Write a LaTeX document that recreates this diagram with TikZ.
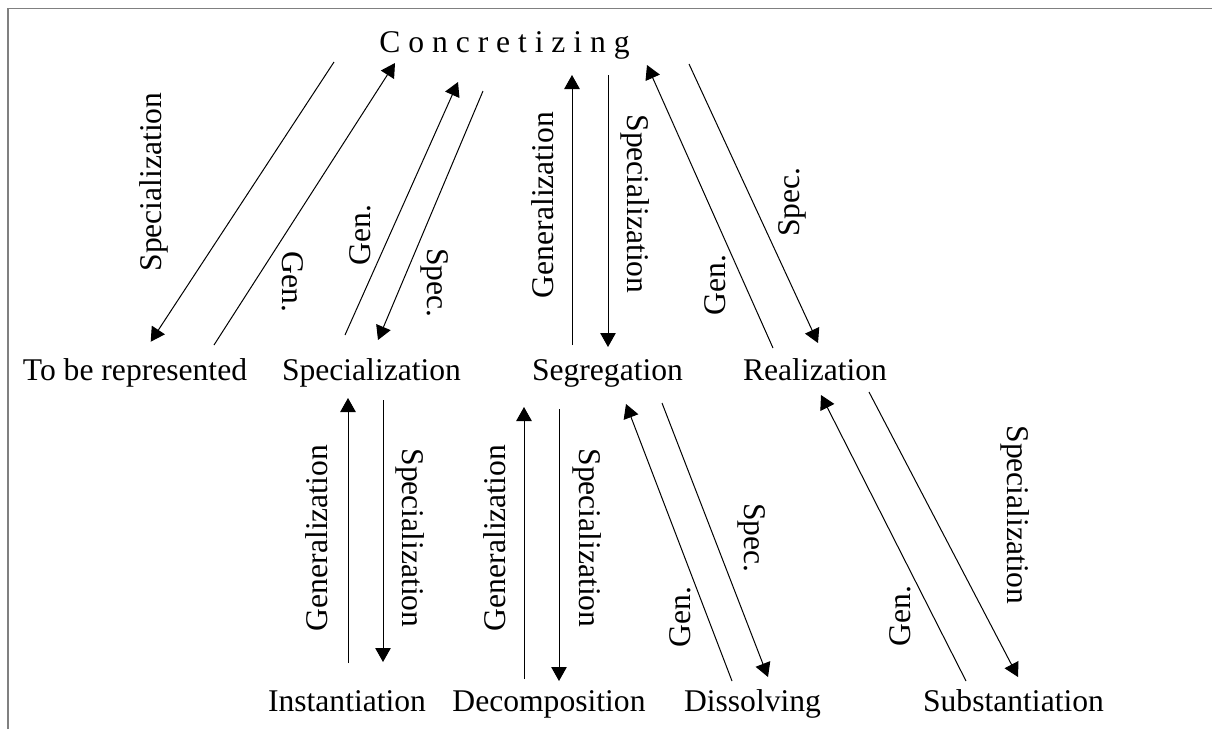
\documentclass[tikz,border=0pt]{standalone}
\usepackage{fontspec}
\setmainfont{Liberation Serif}
\usetikzlibrary{arrows.meta}
\begin{document}
\begin{tikzpicture}[x=1pt,y=-1pt,
  term/.style={anchor=base,inner sep=0pt,font=\fontsize{31.6}{38}\selectfont},
  lbl/.style={inner sep=0pt,font=\fontsize{31.6}{38}\selectfont},
  up/.style={lbl,rotate=90},
  down/.style={lbl,rotate=-90},
  arr/.style={line width=1pt,-{Triangle[length=14pt,width=15.5pt]}},
  frame/.style={line width=1.5pt,draw=black!50}]
\useasboundingbox (0,0) rectangle (1212,729);
\draw[frame] (8,729) -- (8,8.5) -- (1212,8.5);

% terms
\node[term] (conc)   at (504.5,52) {C o n c r e t i z i n g};
\node[term] (tobe)   at (135,380)  {To be represented};
\node[term] (spec)   at (371.5,380){Specialization};
\node[term] (seg)    at (607.5,380){Segregation};
\node[term] (real)   at (815,380)  {Realization};
\node[term] (inst)   at (347,711)  {Instantiation};
\node[term] (decomp) at (549,711)  {Decomposition};
\node[term] (diss)   at (752.5,711){Dissolving};
\node[term] (subst)  at (1013.5,711){Substantiation};

% upper level
\draw[arr] ([shift={(-170.5,10)}]conc.base) -- ([shift={(15.7,-38.3)}]tobe.base);
\draw[arr] ([shift={(79,-35)}]tobe.base) -- ([shift={(-109.5,11)}]conc.base);
\draw[arr] ([shift={(-26.5,-45)}]spec.base) -- ([shift={(-46.5,30)}]conc.base);
\draw[arr] ([shift={(-21.5,39)}]conc.base) -- ([shift={(6.5,-40)}]spec.base);
\draw[arr] ([shift={(-35.5,-35)}]seg.base) -- ([shift={(67.5,23)}]conc.base);
\draw[arr] ([shift={(103.5,23)}]conc.base) -- ([shift={(0.5,-33)}]seg.base);
\draw[arr] ([shift={(-42,-32)}]real.base) -- ([shift={(142.5,13)}]conc.base);
\draw[arr] ([shift={(184.5,12)}]conc.base) -- ([shift={(3,-37)}]real.base);

\node[up]   (l1) at (154,182) {Specialization};
\node[down] (l2) at (293,282) {Gen.};
\node[up]   (l3) at (360,235) {Gen.};
\node[down] (l4) at (435,283) {Spec.};
\node[up]   (l5) at (543,205) {Generalization};
\node[down] (l6) at (635,204) {Specialization};
\node[up]   (l7) at (715,285) {Gen.};
\node[up]   (l8) at (792,202) {Spec.};

% lower level
\draw[arr] ([shift={(1,-48)}]inst.base) -- ([shift={(-23.5,18)}]spec.base);
\draw[arr] ([shift={(11.5,20)}]spec.base) -- ([shift={(36,-49)}]inst.base);
\draw[arr] ([shift={(-25,-32)}]decomp.base) -- ([shift={(-83.5,27)}]seg.base);
\draw[arr] ([shift={(-48.5,29)}]seg.base) -- ([shift={(10,-30)}]decomp.base);
\draw[arr] ([shift={(-20.5,-30)}]diss.base) -- ([shift={(18.5,24)}]seg.base);
\draw[arr] ([shift={(54.5,23)}]seg.base) -- ([shift={(15.5,-34)}]diss.base);
\draw[arr] ([shift={(-47.5,-30)}]subst.base) -- ([shift={(6,15)}]real.base);
\draw[arr] ([shift={(54,12)}]real.base) -- ([shift={(4.5,-34)}]subst.base);

\node[up]   (l9)  at (317,538) {Generalization};
\node[down] (l10) at (410,538) {Specialization};
\node[up]   (l11) at (495,538) {Generalization};
\node[down] (l12) at (587,538) {Specialization};
\node[up]   (l13) at (680,617) {Gen.};
\node[down] (l14) at (752,538) {Spec.};
\node[up]   (l15) at (900,616) {Gen.};
\node[down] (l16) at (1015,515) {Specialization};
\end{tikzpicture}
\end{document}
